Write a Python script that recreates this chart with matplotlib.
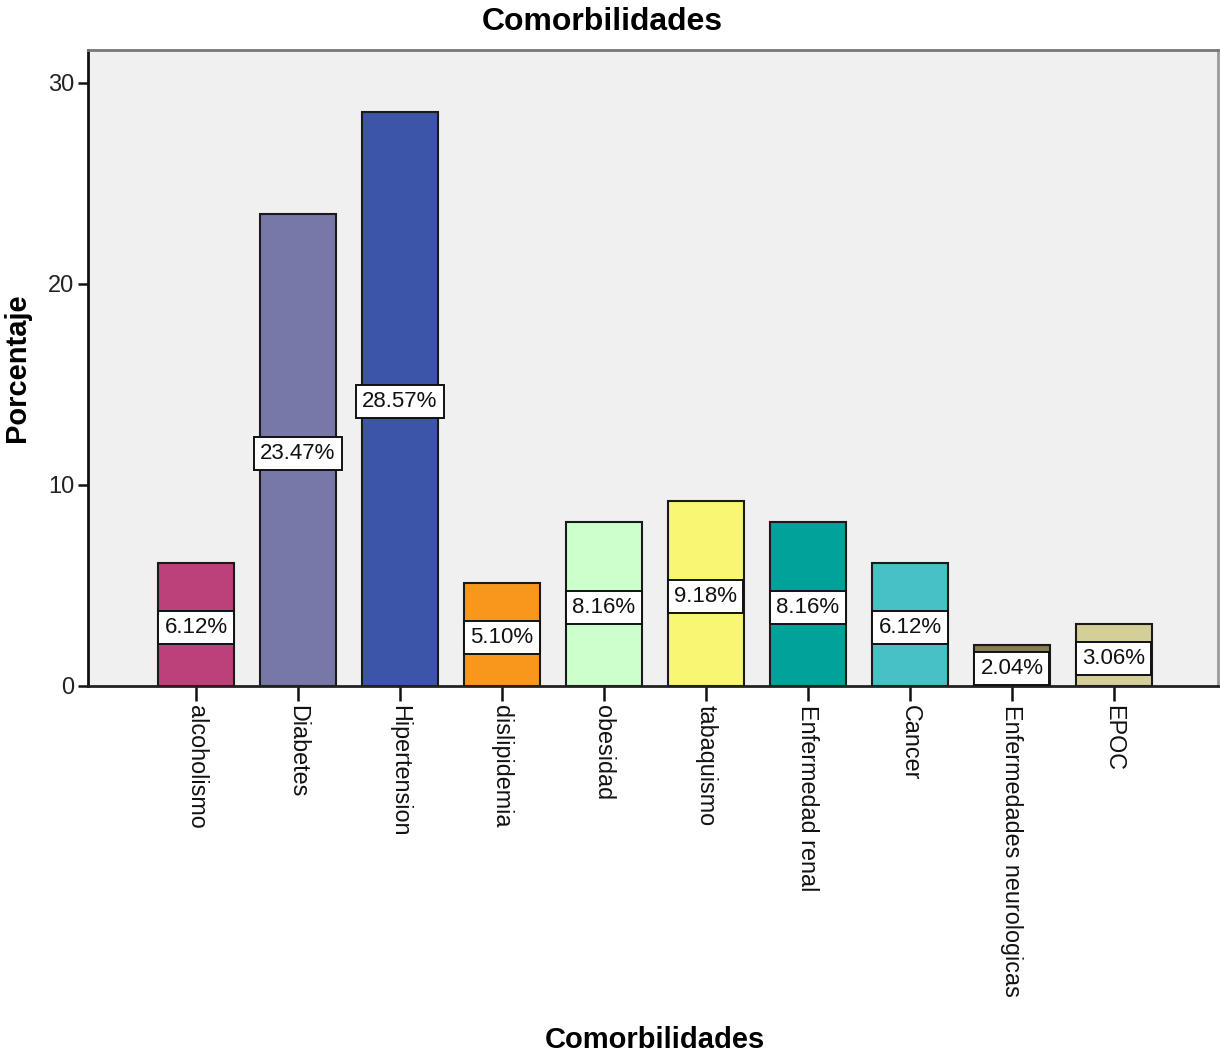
import matplotlib
matplotlib.use("Agg")
import matplotlib.pyplot as plt

categories = ["alcoholismo", "Diabetes", "Hipertension", "dislipidemia", "obesidad",
              "tabaquismo", "Enfermedad renal", "Cancer", "Enfermedades neurologicas", "EPOC"]
percentages = [6.12, 23.47, 28.57, 5.10, 8.16, 9.18, 8.16, 6.12, 2.04, 3.06]
bar_colors = ["#BC407A", "#7878A8", "#3C55A8", "#F7981D", "#CCFFCC",
              "#F8F672", "#00A29A", "#48C1C4", "#857D4E", "#D4CF99"]
y_ticks = [0, 10, 20, 30]

plt.rcParams["font.family"] = ["Liberation Sans", "DejaVu Sans"]

fig = plt.figure(figsize=(12.2, 10.57), dpi=100)
ax = fig.add_axes([88 / 1220, 1 - 686 / 1057, 1130 / 1220, 636 / 1057])
ax.set_facecolor("#F0F0F0")

x = list(range(len(categories)))
ax.bar(x, percentages, width=0.745, color=bar_colors, edgecolor="#1a1a1a",
       linewidth=1.5, zorder=2)

for xi, v in zip(x, percentages):
    ax.text(xi, v / 2 - 0.15, f"{v:.2f}%", ha="center", va="center", fontsize=16,
            color="#111111", zorder=3,
            bbox=dict(boxstyle="square,pad=0.27", facecolor="white",
                      edgecolor="#111111", linewidth=1.4))

ax.set_xlim(-1.059, 10.02)
ax.set_ylim(0, 31.64)
ax.set_yticks(y_ticks)
ax.set_yticklabels([str(t) for t in y_ticks], fontsize=17, color="#222222")
ax.set_xticks(x)
ax.set_xticklabels(categories, rotation=270, fontsize=16.8, color="#111111",
                   ha="center", va="top")
ax.tick_params(axis="y", length=7, width=1.8, color="#111111", pad=3)
ax.tick_params(axis="x", length=11, width=1.8, color="#111111", pad=3)

ax.spines["left"].set_color("#111111")
ax.spines["bottom"].set_color("#222222")
ax.spines["top"].set_color("#777777")
ax.spines["right"].set_color("#999999")
for s in ax.spines.values():
    s.set_linewidth(2)

ax.set_ylabel("Porcentaje", fontsize=21, fontweight="bold", labelpad=12)
fig.text(655 / 1220, 1 - 1040 / 1057, "Comorbilidades", ha="center", va="center",
         fontsize=21, fontweight="bold")
fig.text(602 / 1220, 1 - 22 / 1057, "Comorbilidades", ha="center", va="center",
         fontsize=23, fontweight="bold")

fig.savefig("out.png", dpi=100)
